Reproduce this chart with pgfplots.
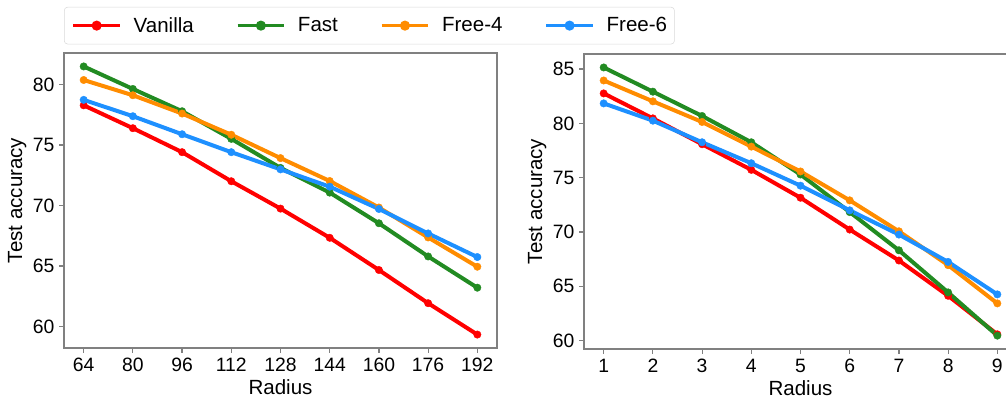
\documentclass[border=0pt]{standalone}
\usepackage{fontspec}
\setmainfont{Liberation Sans}
\usepackage{pgfplots}
\pgfplotsset{compat=1.18}
\definecolor{cVan}{RGB}{255,0,0}
\definecolor{cFast}{RGB}{34,139,34}
\definecolor{cFfour}{RGB}{255,140,0}
\definecolor{cFsix}{RGB}{30,144,255}
\definecolor{axgray}{RGB}{128,128,128}

\pgfplotsset{
  myaxis/.style={
    scale only axis, width=324.75pt, height=221.25pt,
    axis line style={axgray, line width=0.9pt},
    tick align=outside, xtick pos=left, ytick pos=left,
    major tick length=3.75pt,
    tick style={axgray, line width=0.9pt},
    tick label style={font=\fontsize{14.5}{17}\selectfont},
    label style={font=\fontsize{15.4}{18}\selectfont},
    /pgf/number format/assume math mode=true,
    xlabel={Radius}, ylabel={Test accuracy},
    xlabel style={at={(axis description cs:0.5,-0.132)}, anchor=center},
    ylabel style={at={(axis description cs:-0.108,0.5)}, anchor=center},
    every axis plot/.append style={line width=3pt, mark=*, mark size=2.8pt, mark options={solid, line width=0.3pt}},
    legend image code/.code={
      \draw[#1, line width=2.6pt, mark=none] (0pt,0pt) -- (35pt,0pt);
      \fill[#1] (17.5pt,0pt) circle (2.2pt);
    },
  }
}

\begin{document}
\begin{tikzpicture}
\begin{axis}[myaxis, at={(48pt,-261pt)}, anchor=south west,
  xmin=57.6, xmax=198.4, ymin=58.23, ymax=82.59,
  xtick={64,80,96,112,128,144,160,176,192},
  ytick={60,65,70,75,80},
  legend columns=4,
  legend style={at={(axis description cs:0,1)}, anchor=south west, yshift=6.5pt,
    draw=black!15, rounded corners=2.5pt, fill=white,
    font=\fontsize{15.4}{18}\selectfont,
    inner xsep=5.5pt, inner ysep=7.5pt,
    nodes={inner sep=0pt},
    /tikz/every odd column/.append style={column sep=9pt},
    /tikz/every even column/.append style={column sep=31.5pt}},
]
\addplot[cVan] coordinates {(64,78.27) (80,76.38) (96,74.40) (112,72.00) (128,69.74) (144,67.33) (160,64.67) (176,61.93) (192,59.34)};
\addlegendentry{Vanilla}
\addplot[cFast] coordinates {(64,81.48) (80,79.62) (96,77.78) (112,75.50) (128,73.10) (144,71.06) (160,68.53) (176,65.79) (192,63.21)};
\addlegendentry{Fast}
\addplot[cFfour] coordinates {(64,80.36) (80,79.10) (96,77.59) (112,75.84) (128,73.91) (144,72.02) (160,69.83) (176,67.36) (192,64.94)};
\addlegendentry{Free-4}
\addplot[cFsix] coordinates {(64,78.72) (80,77.37) (96,75.88) (112,74.40) (128,72.98) (144,71.55) (160,69.71) (176,67.69) (192,65.74)};
\addlegendentry{Free-6}
\end{axis}

\begin{axis}[myaxis, at={(438pt,-261.75pt)}, anchor=south west,
  xmin=0.6, xmax=9.4, ymin=59.22, ymax=86.39,
  xtick={1,2,3,4,5,6,7,8,9},
  ytick={60,65,70,75,80,85},
]
\addplot[cVan] coordinates {(1,82.76) (2,80.46) (3,78.08) (4,75.72) (5,73.15) (6,70.22) (7,67.37) (8,64.12) (9,60.57)};
\addplot[cFast] coordinates {(1,85.15) (2,82.92) (3,80.68) (4,78.26) (5,75.29) (6,71.83) (7,68.31) (8,64.43) (9,60.45)};
\addplot[cFfour] coordinates {(1,83.95) (2,82.03) (3,80.13) (4,77.86) (5,75.57) (6,72.91) (7,70.06) (8,66.94) (9,63.42)};
\addplot[cFsix] coordinates {(1,81.84) (2,80.25) (3,78.26) (4,76.33) (5,74.26) (6,71.99) (7,69.76) (8,67.24) (9,64.25)};
\end{axis}
\pgfresetboundingbox
\useasboundingbox (0pt,0pt) rectangle (754.5pt,-298.5pt);
\end{tikzpicture}
\end{document}
